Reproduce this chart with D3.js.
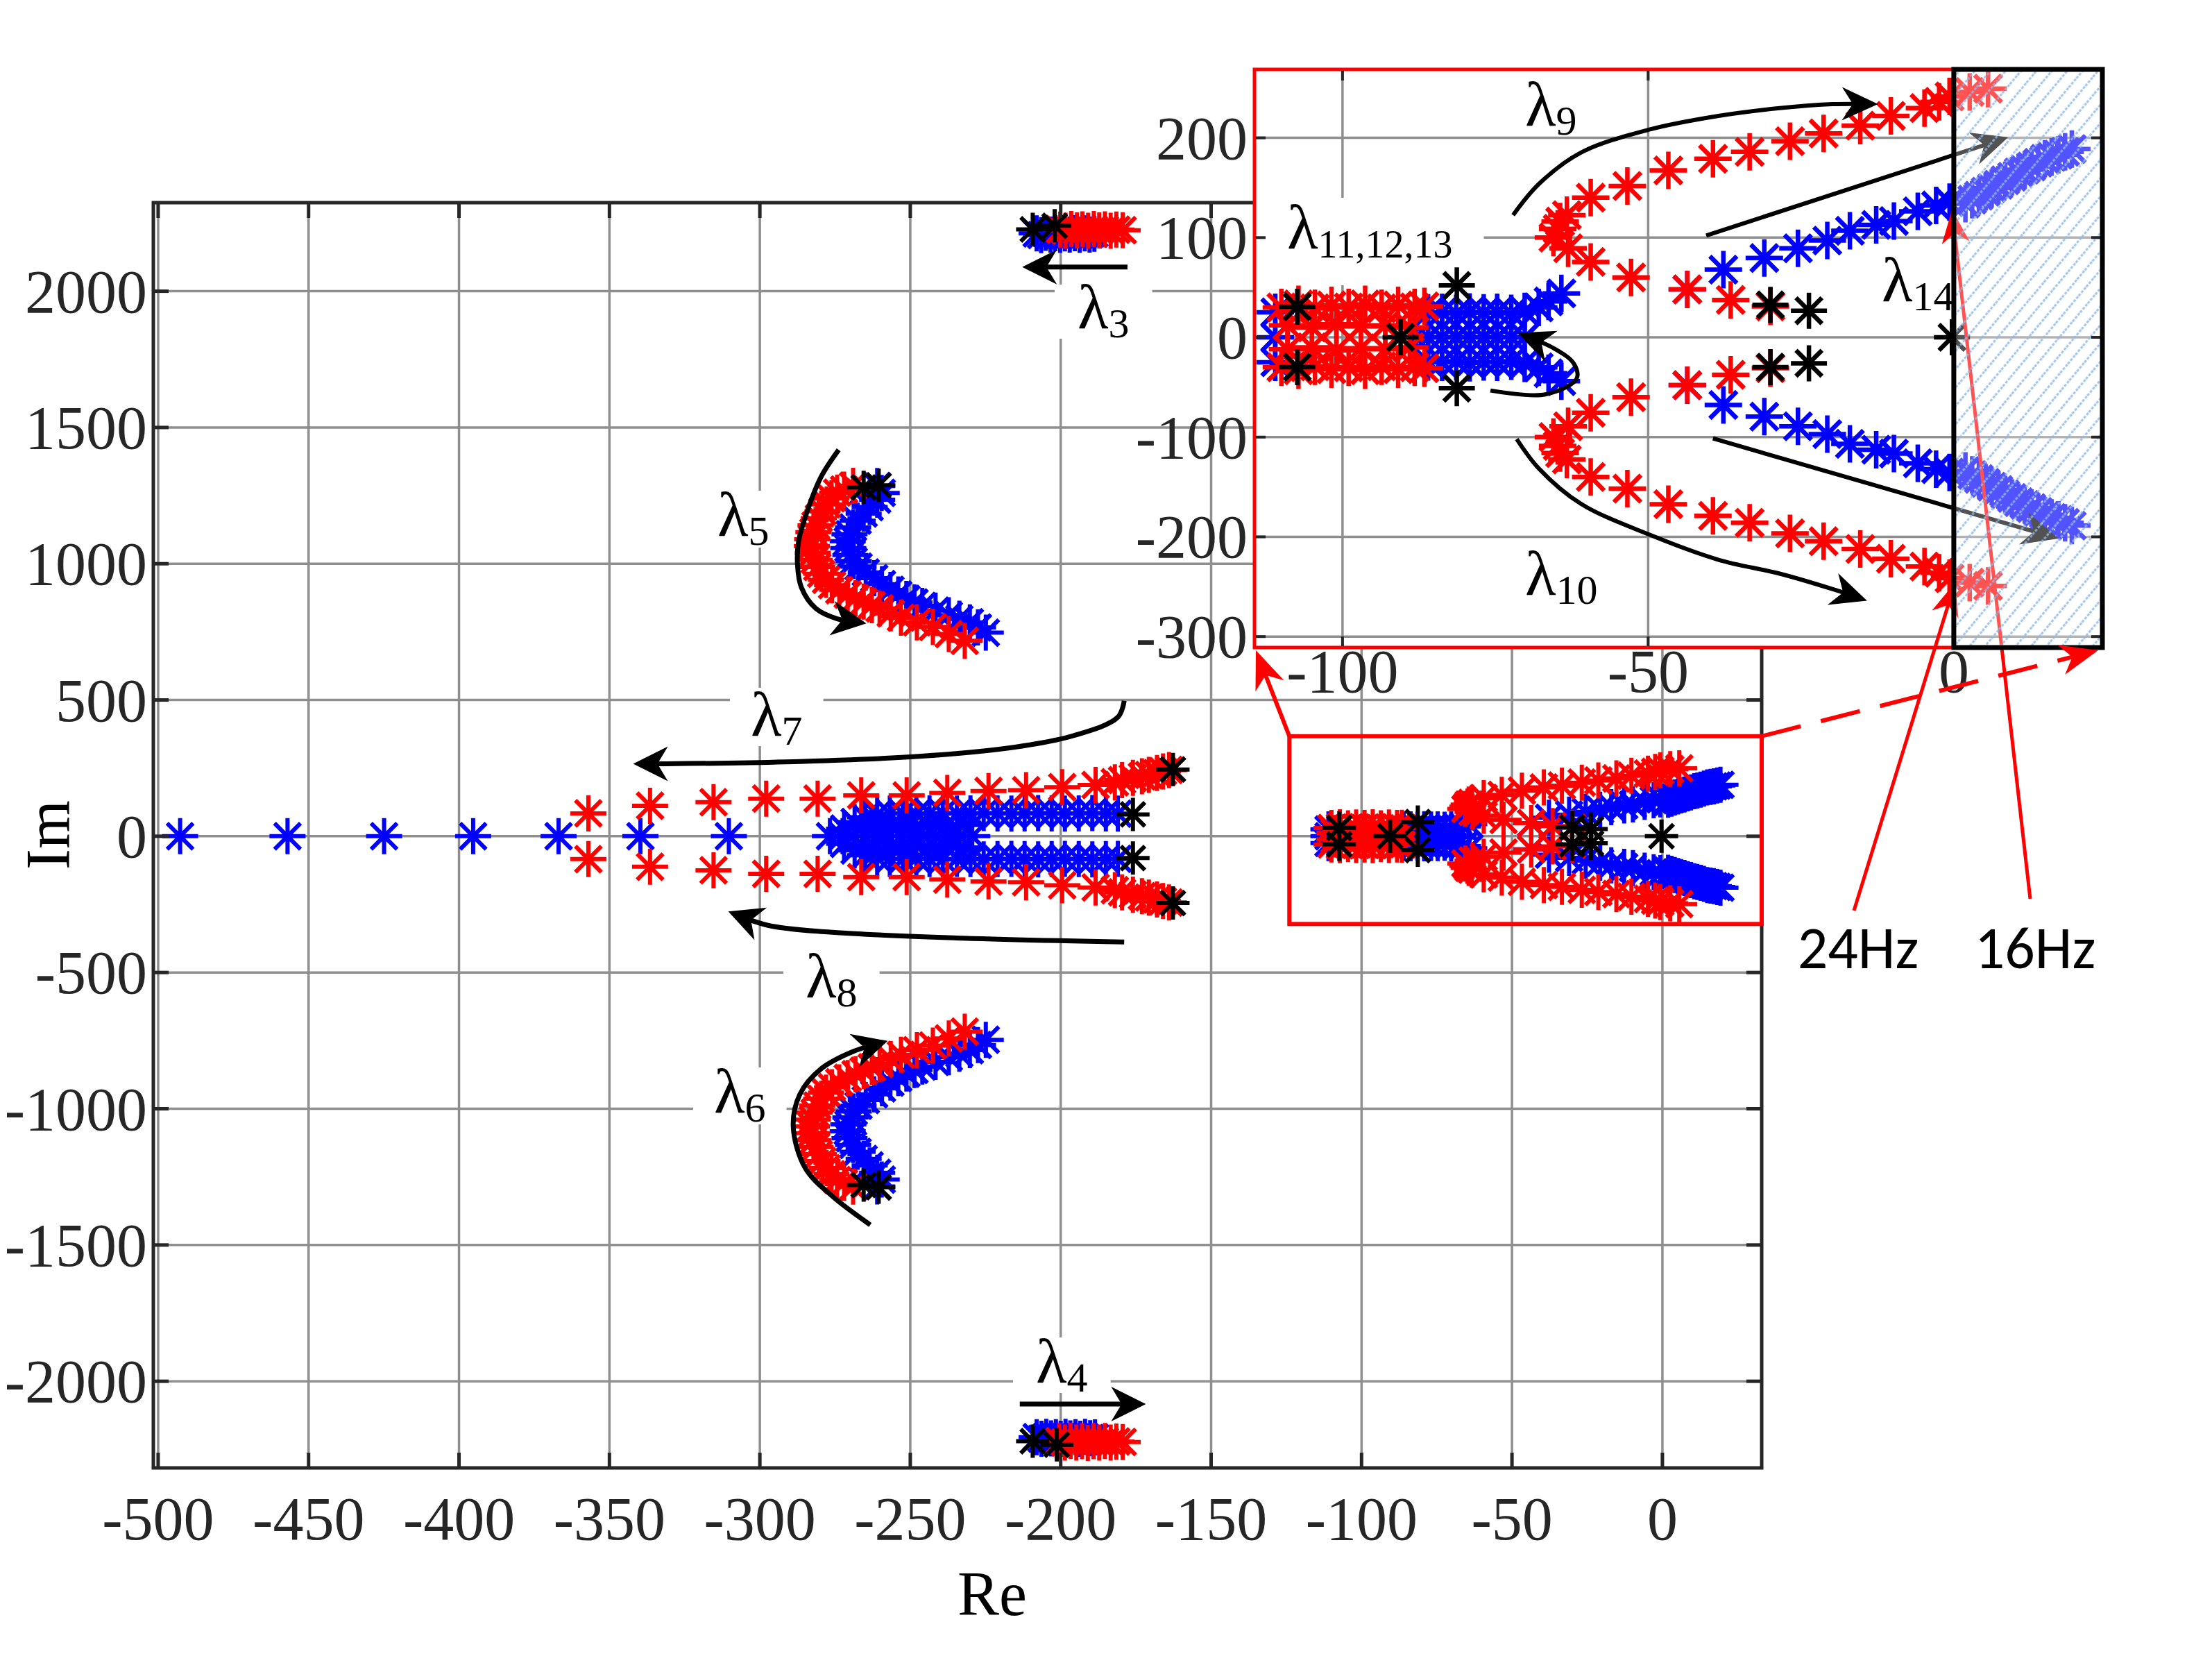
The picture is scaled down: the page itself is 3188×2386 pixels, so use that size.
<!DOCTYPE html>
<html><head><meta charset="utf-8">
<script src="https://cdn.jsdelivr.net/npm/d3@7"></script>
<style>body{margin:0;background:#fff}svg{display:block}</style>
</head><body>
<svg id="c" width="3188" height="2386"></svg>
<script>
// ================= DATA =================
const xTicksMain = [-500,-450,-400,-350,-300,-250,-200,-150,-100,-50,0];
const yTicksMain = [-2000,-1500,-1000,-500,0,500,1000,1500,2000];
const xTicksInset = [-100,-50,0];
const yTicksInset = [-300,-200,-100,0,100,200];

// λ7/λ8 : blue poles on the real axis
const blueAxisRe = [-492.7,-457,-424.9,-395.3,-366.9,-339.7,-310.3];
const blueL78CenterRe = [-276.7,-272.5,-268.8,-265,-261.4,-257.5,-253.2,-249.6,-245.8,-241.5,-237.9,-233.6,-229.4];
const blueL78Upper = [[-272,28],[-268.5,52],[-265,70],[-261,79],[-256.8,83],[-252.5,84],[-248,82],[-243.6,84],[-239.2,85],[-234.5,83],[-230,84],[-225.6,85],[-221,84],[-216.4,83],[-212,84],[-207.5,85],[-203,84],[-198.6,83],[-194,84],[-189.5,85],[-185,84],[-181,83]];
const blueL78Mid = [[-262,40],[-256,44],[-250,40],[-244,42],[-238,38],[-232,41]];
const redL78Upper = [[-357,84],[-336.5,112],[-315.4,125],[-297.9,138],[-280.8,138],[-266.3,150],[-251.2,150],[-237.7,159],[-224,166],[-211.5,169],[-199.5,180],[-188.4,188],[-182,198],[-179.6,206],[-176,214],[-173,220],[-170.7,225],[-168,232],[-166,238],[-164,243]];
const blackL78Upper = [[-176,80],[-162.7,245]];

// λ5 (λ6 is its conjugate)
const redL5 = [[-269,1286],[-272,1272],[-274.3,1261],[-276.2,1240],[-277.8,1218],[-279.2,1192],[-280.4,1167],[-281.5,1141],[-282.2,1116],[-282.6,1090],[-282.7,1065],[-282.4,1040],[-281.8,1014],[-280.9,988],[-279.6,963],[-278,941],[-276,921],[-273.6,903],[-270.8,887],[-268.2,873],[-265.5,861],[-262.8,848],[-260.2,836],[-256.5,818],[-253.1,802],[-247.8,785],[-242.5,768],[-237.2,742],[-231.9,717]];
const blueL5 = [[-261,1285],[-259.5,1260],[-261,1235],[-263.5,1208],[-265.5,1184],[-267.5,1158],[-269,1133],[-270.2,1108],[-270.8,1083],[-270.6,1057],[-269.9,1032],[-268.8,1010],[-267.2,989],[-264.8,968],[-262,947],[-259.4,925],[-256.6,904],[-254,887],[-251.3,871],[-248.6,858],[-246,845],[-241.6,828],[-237.2,811],[-233.7,798],[-230.2,785],[-227.5,766],[-224.9,747]];
const blackL5 = [[-265.5,1280],[-260.5,1288]];

// λ3 / λ4
const blueL3 = [[-208,2212],[-206.5,2206],[-205,2214],[-203.4,2208],[-201.8,2213],[-200.2,2207],[-198.6,2212],[-197,2208],[-195.3,2213],[-193.7,2207],[-192,2212],[-190.4,2208],[-188.8,2211]];
const redL3 = [[-200.2,2226],[-198.4,2222],[-196.5,2228],[-194.6,2223],[-192.8,2227],[-190.9,2222],[-189,2228],[-187.2,2223],[-185.3,2227],[-183.4,2222],[-181.5,2226],[-179.4,2224]];
const blackL3 = [[-209.3,2227],[-202,2240]];
const blueL4 = [[-208,-2205],[-206.4,-2211],[-204.8,-2204],[-203.2,-2210],[-201.6,-2205],[-200,-2211],[-198.4,-2204],[-196.8,-2210],[-195.1,-2205],[-193.5,-2211],[-191.9,-2204],[-190.2,-2209],[-188.6,-2206]];
const redL4 = [[-200.5,-2220],[-198.6,-2225],[-196.7,-2219],[-194.8,-2225],[-192.9,-2220],[-191,-2226],[-189.1,-2220],[-187.2,-2225],[-185.3,-2219],[-183.4,-2225],[-181.5,-2221],[-179.4,-2223]];
const blackL4 = [[-209.3,-2220],[-201.3,-2233]];

// λ9..λ14 (shown in the small box and in the inset)
const redL910Upper = [[-30,31],[-36.5,37.5],[-43.6,48],[-52.8,60],[-59.4,75.6],[-63.1,89.2],[-65.5,100],[-64.8,108.8],[-64.4,116],[-63.3,122.5],[-59.4,140],[-53.4,151.7],[-46.7,167.3],[-39.4,179],[-33.4,185.9],[-26.8,196.6],[-21.3,204.4],[-15.3,212.2],[-10.3,222],[-4.8,229.8],[-2.4,236],[-0.7,241.5],[2.6,246],[5.6,249.3]];
const redL1113Upper = [[-110,30],[-107.2,33],[-104.5,29],[-101.8,32],[-99,30],[-96.3,33],[-93.6,29],[-90.9,32],[-88.2,30],[-86.6,31],[-109,12],[-105,10],[-101,13],[-97,11],[-93,12],[-89,10]];
const blueL1113Upper = [[-111,25],[-86,24.6],[-83.7,25],[-81.4,24],[-79.2,25.5],[-76.9,24.6],[-74.7,25],[-72.4,24],[-70.2,26],[-67.9,30],[-66.3,36],[-64.2,44]];
const blueL1113CenterRe = [-111,-88,-86,-83.7,-81.4,-79.2,-76.9,-74.7,-72.4,-70.2];
const blueL14Upper = [[-43.6,48],[-37.7,67.8],[-31,79.5],[-25.5,89.2],[-20.7,97],[-17,106.8],[-12.7,112.7],[-9.8,116.6],[-5.9,126.3],[-2.9,132.2],[-0.7,135.5],[1.9,134],[3,138],[4.1,142],[5.2,146],[6.2,149.7],[7.3,153],[8.4,157.5],[9.5,161],[10.6,165.3],[11.6,168],[12.7,171.2],[13.8,175],[14.9,179],[16,181],[17.1,183],[18.2,186],[19.3,188.8]];
const blackInset = [[-107.4,30.6],[-107.4,-29.9],[-90.5,0],[-81.3,52],[-81.3,-51],[-30,32.6],[-23.7,26.7],[-30,-29.9],[-23.7,-26],[-0.3,0]];

// arrow paths (data coordinates)
const arrowL3 = [[-177.8,2089],[-212.8,2089]];
const arrowL4 = [[-213.6,-2084],[-171.7,-2084]];
const arrowL5 = [[-273.8,1418],[-279.6,1320],[-284,1201],[-287.1,1083],[-287.5,998],[-286.2,913],[-281.4,836],[-274.3,798],[-264.6,781]];
const arrowL6 = [[-263.3,-1426],[-276,-1320],[-284.9,-1218],[-288.9,-1065],[-286.7,-947],[-279.6,-853],[-269,-790],[-257.5,-751]];
const arrowL7 = [[-178.9,497],[-181,437],[-195.8,369],[-217.8,323],[-247.2,293],[-291.4,273],[-331,266],[-342.1,266]];
const arrowL8 = [[-178.9,-388],[-232.5,-374],[-276.7,-352],[-297.3,-327],[-310.5,-276]];
const arrowL9 = [[-72.1,122.5],[-67.9,153.6],[-61.1,184.9],[-49.8,208.3],[-38.5,222],[-28.5,229.8],[-19.8,233.8],[-12.4,233.8]];
const arrowL10 = [[-71.5,-102],[-67.9,-131.4],[-61.1,-166.5],[-49.8,-197.8],[-38.5,-223],[-28.5,-236.9],[-19.8,-252.5],[-14.2,-264]];
const arrowL14a = [[-40.5,102.1],[8.9,200.5]];
const arrowL14b = [[-39.4,-101.3],[17.1,-201.7]];
const arrowL1113 = [[-75.8,-53.3],[-66.8,-57.2],[-61.7,-41.4],[-62.2,-26],[-65.6,-10.4],[-71.3,4.5]];

// =================== DRAWING ===================
const conj = a => a.map(([r,i]) => [r,-i]);
const onAxis = a => a.map(r => [r,0]);
const serif = '"Liberation Serif","Times New Roman",serif';
const svg = d3.select('#c');

const xM = d3.scaleLinear().domain([-501.6,33]).range([221,2539]);
const yM = d3.scaleLinear().domain([-2318,2325]).range([2115,292]);
const xI = d3.scaleLinear().domain([-114.4,24.3]).range([1808,3030]);
const yI = d3.scaleLinear().domain([-311,268.6]).range([933,100]);

const insetBlue = [...blueL1113Upper, ...conj(blueL1113Upper), ...onAxis(blueL1113CenterRe), ...blueL14Upper, ...conj(blueL14Upper)];
const insetRed = [...redL1113Upper, ...conj(redL1113Upper), ...redL910Upper, ...conj(redL910Upper)];
const mainBlue = [...onAxis(blueAxisRe), ...onAxis(blueL78CenterRe), ...blueL78Upper, ...conj(blueL78Upper), ...blueL78Mid, ...conj(blueL78Mid),
  ...blueL5, ...conj(blueL5), ...blueL3, ...blueL4, ...insetBlue];
const mainRed = [...redL78Upper, ...conj(redL78Upper), ...redL5, ...conj(redL5), ...redL3, ...redL4, ...insetRed];
const mainBlack = [...blackL78Upper, ...conj(blackL78Upper), ...blackL5, ...conj(blackL5), ...blackL3, ...blackL4, ...blackInset];

function starPath(r){const a=r*0.72;return `M${-r},0L${r},0M0,${-r}L0,${r}M${-a},${-a}L${a},${a}M${-a},${a}L${a},${-a}`;}
function stars(g, pts, xs, ys, color, r, sw){
  g.append('g').selectAll('path').data(pts).join('path')
    .attr('d', starPath(r)).attr('transform', d => `translate(${xs(d[0])},${ys(d[1])})`)
    .attr('fill','none').attr('stroke',color).attr('stroke-width',sw);
}
function head(g,x,y,ang,o){
  const c=Math.cos(ang), s=Math.sin(ang);
  const pt=(a,b)=>[x+a*c-b*s, y+a*s+b*c];
  const P=[pt(0,0),pt(-o.len,o.hw),pt(-o.len*0.7,0),pt(-o.len,-o.hw)];
  g.append('path').attr('d','M'+P.map(p=>p.join(',')).join('L')+'Z').attr('fill',o.color);
}
function arrow(g, pts, xs, ys, o){
  const line = d3.line().x(d=>xs(d[0])).y(d=>ys(d[1])).curve(d3.curveCatmullRom.alpha(0.5));
  const p = g.append('path').attr('d', line(pts)).attr('fill','none').attr('stroke',o.color).attr('stroke-width',o.sw);
  const n = p.node(), L = n.getTotalLength();
  const tip = n.getPointAtLength(L), back = n.getPointAtLength(Math.max(0, L - o.len*0.8));
  p.attr('stroke-dasharray', `${L - o.len*0.6} ${L+50}`);
  head(g, tip.x, tip.y, Math.atan2(tip.y-back.y, tip.x-back.x), o);
}
function pxArrow(g, p1, p2, o){
  const ang=Math.atan2(p2[1]-p1[1], p2[0]-p1[0]);
  const e=[p2[0]-Math.cos(ang)*o.len*0.6, p2[1]-Math.sin(ang)*o.len*0.6];
  const l=g.append('line').attr('x1',p1[0]).attr('y1',p1[1]).attr('x2',e[0]).attr('y2',e[1])
    .attr('stroke',o.color).attr('stroke-width',o.sw);
  if(o.dash) l.attr('stroke-dasharray',o.dash);
  head(g,p2[0],p2[1],ang,o);
}
function lam(gT, gB, x, y, sub, bg, subSize){
  const t = gT.append('text').attr('x',x).attr('y',y).attr('font-family',serif).attr('font-size',92).attr('fill','#000');
  t.append('tspan').text('λ');
  t.append('tspan').attr('font-size', subSize||60).attr('dy',13).text(sub);
  if(bg){
    const b=t.node().getBBox();
    gB.append('rect').attr('x',b.x-bg[0]).attr('y',y-63-bg[1]).attr('width',b.width+2*bg[0]).attr('height',78+bg[1]+bg[2]).attr('fill','#fff');
  }
}

// ---------- main axes ----------
const gridC='#8f8f8f', axC='#262626';
const mG = svg.append('g'), mBg = svg.append('g'), mS = svg.append('g'), mA = svg.append('g'), mT = svg.append('g'), mX = svg.append('g');
xTicksMain.forEach(v=>mG.append('line').attr('x1',xM(v)).attr('x2',xM(v)).attr('y1',292).attr('y2',2115).attr('stroke',gridC).attr('stroke-width',3.5));
yTicksMain.forEach(v=>mG.append('line').attr('x1',221).attr('x2',2539).attr('y1',yM(v)).attr('y2',yM(v)).attr('stroke',gridC).attr('stroke-width',3.5));

stars(mS, mainBlue, xM, yM, '#0000ff', 26, 6);
stars(mS, mainRed, xM, yM, '#ff0000', 26, 6);
stars(mS, mainBlack, xM, yM, '#000000', 24, 6);

const ao = {color:'#000', sw:7, len:50, hw:25};
[arrowL3, arrowL4, arrowL5, arrowL6, arrowL7, arrowL8].forEach(a=>arrow(mA, a, xM, yM, ao));

lam(mT, mBg, 1553, 473, '3', [33,0,0]);
lam(mT, mBg, 1493, 1992, '4', [33,2,0]);
lam(mT, mBg, 1034, 772, '5', [12,2,2]);
lam(mT, mBg, 1029, 1603, '6', [30,2,2]);
lam(mT, mBg, 1082, 1060, '7', [30,6,0]);
lam(mT, mBg, 1161, 1437, '8', [32,6,0]);

// axes box & ticks
mX.append('rect').attr('x',221).attr('y',292).attr('width',2539-221).attr('height',2115-292).attr('fill','none').attr('stroke',axC).attr('stroke-width',5);
xTicksMain.forEach(v=>{
  mX.append('line').attr('x1',xM(v)).attr('x2',xM(v)).attr('y1',2115).attr('y2',2093).attr('stroke',axC).attr('stroke-width',5);
  mX.append('line').attr('x1',xM(v)).attr('x2',xM(v)).attr('y1',292).attr('y2',314).attr('stroke',axC).attr('stroke-width',5);
  mX.append('text').attr('x',xM(v)).attr('y',2218).attr('text-anchor','middle').attr('font-family',serif).attr('font-size',88).attr('fill',axC).text(v);
});
yTicksMain.forEach(v=>{
  mX.append('line').attr('x1',221).attr('x2',243).attr('y1',yM(v)).attr('y2',yM(v)).attr('stroke',axC).attr('stroke-width',5);
  mX.append('line').attr('x1',2539).attr('x2',2517).attr('y1',yM(v)).attr('y2',yM(v)).attr('stroke',axC).attr('stroke-width',5);
  mX.append('text').attr('x',212).attr('y',yM(v)+30).attr('text-anchor','end').attr('font-family',serif).attr('font-size',88).attr('fill',axC).text(v);
});
mX.append('text').attr('x',1430).attr('y',2327).attr('text-anchor','middle').attr('font-family',serif).attr('font-size',90).attr('fill','#000').text('Re');
mX.append('text').attr('transform','translate(100,1203) rotate(-90)').attr('text-anchor','middle').attr('font-family',serif).attr('font-size',90).attr('fill','#000').text('Im');

// small red box around the zoomed region
const boxRe=[-124,33], boxIm=[-322,367];
mX.append('rect').attr('x',xM(boxRe[0])).attr('y',yM(boxIm[1])).attr('width',xM(boxRe[1])-xM(boxRe[0])).attr('height',yM(boxIm[0])-yM(boxIm[1]))
  .attr('fill','none').attr('stroke','#ff0000').attr('stroke-width',6);

// ---------- inset ----------
const defs = svg.append('defs');
const pat = defs.append('pattern').attr('id','hatch').attr('patternUnits','userSpaceOnUse').attr('width',17).attr('height',17).attr('patternTransform','rotate(40)');
pat.append('line').attr('x1',2).attr('y1',0).attr('x2',2).attr('y2',17).attr('stroke','#8fb9e6').attr('stroke-width',3).attr('stroke-dasharray','4 2');

const iW = svg.append('g');
iW.append('rect').attr('x',1808).attr('y',100).attr('width',3030-1808).attr('height',833).attr('fill','#fff');
const iG=iW.append('g'), iBg=iW.append('g'), iS=iW.append('g'), iA=iW.append('g'), iT=iW.append('g'), iO=iW.append('g'), iX=iW.append('g');
xTicksInset.forEach(v=>iG.append('line').attr('x1',xI(v)).attr('x2',xI(v)).attr('y1',100).attr('y2',933).attr('stroke',gridC).attr('stroke-width',3.5));
yTicksInset.forEach(v=>iG.append('line').attr('x1',1808).attr('x2',3030).attr('y1',yI(v)).attr('y2',yI(v)).attr('stroke',gridC).attr('stroke-width',3.5));

stars(iS, insetBlue, xI, yI, '#0000ff', 27, 6.5);
stars(iS, insetRed, xI, yI, '#ff0000', 27, 6.5);
stars(iS, blackInset, xI, yI, '#000000', 26, 6.5);

const ai = {color:'#000', sw:6, len:52, hw:24};
[arrowL9, arrowL10, arrowL14a, arrowL14b, arrowL1113].forEach(a=>arrow(iA, a, xI, yI, ai));

lam(iT, null, 2198, 181, '9');
lam(iT, null, 2198, 857, '10');
lam(iT, iBg, 1855, 358, '11,12,13', [45,10,38], 56);
lam(iT, null, 2712, 434, '14');

// red 24Hz / 16Hz indicator arrows (drawn below the shaded region)
const ro = {color:'#ff0000', sw:5, len:48, hw:20};
pxArrow(iT, [2672,1312], [xI(0.2), yI(-246)], ro);
pxArrow(iT, [2926,1295], [xI(-0.3), yI(128)], ro);

// shaded unstable region (Re > 0)
iO.append('rect').attr('x',xI(0)).attr('y',100).attr('width',3030-xI(0)).attr('height',833).attr('fill','rgba(255,255,255,0.32)');
iO.append('rect').attr('x',xI(0)).attr('y',100).attr('width',3030-xI(0)).attr('height',833).attr('fill','url(#hatch)').attr('opacity',0.85);

// inset frame, ticks, labels
iX.append('rect').attr('x',1808).attr('y',100).attr('width',3030-1808).attr('height',833).attr('fill','none').attr('stroke','#ff0000').attr('stroke-width',5);
xTicksInset.forEach(v=>{
  iX.append('line').attr('x1',xI(v)).attr('x2',xI(v)).attr('y1',931).attr('y2',917).attr('stroke',axC).attr('stroke-width',4);
  iX.append('line').attr('x1',xI(v)).attr('x2',xI(v)).attr('y1',102).attr('y2',116).attr('stroke',axC).attr('stroke-width',4);
  iX.append('text').attr('x',xI(v)).attr('y',997).attr('text-anchor','middle').attr('font-family',serif).attr('font-size',88).attr('fill',axC).text(v);
});
yTicksInset.forEach(v=>{
  iX.append('line').attr('x1',1810).attr('x2',1824).attr('y1',yI(v)).attr('y2',yI(v)).attr('stroke',axC).attr('stroke-width',4);
  iX.append('line').attr('x1',3028).attr('x2',3014).attr('y1',yI(v)).attr('y2',yI(v)).attr('stroke',axC).attr('stroke-width',4);
  iX.append('text').attr('x',1798).attr('y',yI(v)+30).attr('text-anchor','end').attr('font-family',serif).attr('font-size',88).attr('fill',axC).text(v);
});
iX.append('rect').attr('x',xI(0)).attr('y',100).attr('width',3030-xI(0)).attr('height',833).attr('fill','none').attr('stroke','#000').attr('stroke-width',7);

// ---------- connector arrows & frequency labels ----------
const cG = svg.append('g');
const co = {color:'#ff0000', sw:6, len:55, hw:22};
pxArrow(cG, [xM(boxRe[0]), yM(boxIm[1])], [xI(-114.4)+2, yI(-311)+4], co);
pxArrow(cG, [xM(boxRe[1]), yM(boxIm[1])], [xI(24.3)-6, yI(-311)+4], Object.assign({dash:'58 30'}, co));

const sans = 'Carlito, Lato, "Open Sans", sans-serif';
cG.append('text').attr('x',2678).attr('y',1395).attr('text-anchor','middle').attr('font-family',sans).attr('font-size',86).attr('fill','#000').text('24Hz');
cG.append('text').attr('x',2933).attr('y',1395).attr('text-anchor','middle').attr('font-family',sans).attr('font-size',86).attr('fill','#000').text('16Hz');
</script>
</body></html>
